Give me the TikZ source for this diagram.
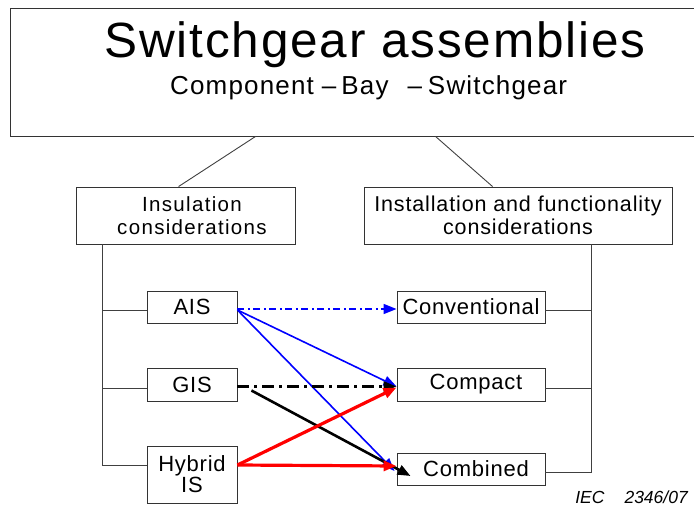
\documentclass[tikz,border=0pt]{standalone}
\usepackage{fontspec}
\setmainfont{Liberation Sans}
\newfontfamily\titlefont[LetterSpace=3.75]{Liberation Sans}
\newfontfamily\subfont[LetterSpace=4.5]{Liberation Sans}
\newfontfamily\insfont[LetterSpace=6.5]{Liberation Sans}
\newfontfamily\instfont[LetterSpace=4]{Liberation Sans}
\newfontfamily\bxfont[LetterSpace=3.5]{Liberation Sans}
\usetikzlibrary{arrows.meta,calc}
\tikzset{
  box/.style={draw=black!80, line width=0.9pt, inner sep=0pt, align=center, anchor=center},
  bxtext/.style={font={\bxfont\fontsize{22}{24}\selectfont}},
  branch/.style={draw=black!75, line width=0.9pt},
  head/.style={-{Triangle[length=13pt,width=10pt]}},
  bluearr/.style={draw=blue, line width=1.6pt, head},
  blackarr/.style={draw=black, line width=2.6pt, head},
  redarr/.style={draw=red, line width=3.2pt, head},
  dashdot/.style={dash pattern=on 7pt off 3.5pt on 2pt off 3.5pt},
  bigdashdot/.style={dash pattern=on 12pt off 5pt on 3pt off 5pt},
}
\begin{document}
\begin{tikzpicture}[x=1pt,y=-1pt]
\useasboundingbox (0,0) rectangle (694,506);
% top box
\node[box, minimum width=690pt, minimum height=128pt] (top) at (355,72) {};
\node[inner sep=0pt, anchor=base west, font={\titlefont\fontsize{49.5}{55}\selectfont}] (title) at (104,57) {Switchgear assemblies};
\node[inner sep=0pt, anchor=base west, font={\subfont\fontsize{26}{30}\selectfont}] (subtitle) at (170,94) {Component\kern8pt–\kern5pt Bay\kern19pt–\kern6pt Switchgear};
% consideration boxes
\node[box, minimum width=219pt, minimum height=57pt] (ins) at (185.5,215.5) {};
\node[inner sep=0pt, align=center, font={\insfont\fontsize{20.5}{23}\selectfont}] (instext) at (192,215.5) {Insulation\\considerations};
\node[box, minimum width=308pt, minimum height=57pt, font={\instfont\fontsize{21.5}{23}\selectfont}] (inst) at (518,215.5) {Installation and functionality\\considerations};
\draw[branch] ([xshift=246pt]top.south west) -- ([xshift=103pt]ins.north west);
\draw[branch] ([xshift=426pt]top.south west) -- ([xshift=129pt]inst.north west);
% left boxes
\node[box, bxtext, minimum width=90pt, minimum height=32pt] (ais) at (192,307) {AIS};
\node[box, bxtext, minimum width=90pt, minimum height=33pt] (gis) at (192,384.5) {GIS};
\node[box, minimum width=90pt, minimum height=57pt, font={\bxfont\fontsize{22}{21}\selectfont}] (hyb) at (192,474.5) {Hybrid\\IS};
% right boxes
\node[box, bxtext, minimum width=148pt, minimum height=32pt] (conv) at (471,307) {Conventional};
\node[box, bxtext, minimum width=148pt, minimum height=33pt] (comp) at (471,384.5) {\kern10pt Compact};
\node[box, bxtext, minimum width=148pt, minimum height=32pt] (comb) at (471,469) {\kern10pt Combined};
% left tree
\coordinate (lbot) at (102,465);
\coordinate (la) at ($(ais.west)+(0,3)$);
\coordinate (lg) at ($(gis.west)+(0,3.5)$);
\coordinate (lh) at ($(hyb.west)+(0,-9.5)$);
\draw[branch] (lbot |- ins.south) -- (lbot) -- (lh);
\draw[branch] (la) -- (la -| lbot);
\draw[branch] (lg) -- (lg -| lbot);
% right tree
\coordinate (rbot) at (591,472);
\coordinate (rc) at ($(conv.east)+(0,3)$);
\coordinate (rp) at ($(comp.east)+(0,3.5)$);
\coordinate (rb) at ($(comb.east)+(0,3)$);
\draw[branch] (rbot |- inst.south) -- (rbot) -- (rb);
\draw[branch] (rc) -- (rc -| rbot);
\draw[branch] (rp) -- (rp -| rbot);
% arrows
\draw[bluearr, dashdot] ($(ais.east)+(0,2)$) -- ($(conv.west)+(0,2)$);
\draw[bluearr] ($(ais.east)+(0,3)$) -- ($(comp.west)+(0,2)$);
\draw[bluearr] ($(ais.east)+(0,3)$) -- ($(comb.west)+(-2,2)$);
\draw[blackarr, bigdashdot] ($(gis.east)+(0,2)$) -- ($(comp.west)+(0,2)$);
\draw[blackarr] ($(gis.east)+(14,6)$) -- ($(comb.west)+(14,7)$);
\draw[redarr] (lh -| hyb.east) -- ($(comp.west)+(0,3)$);
\draw[redarr] (lh -| hyb.east) -- ($(comb.west)+(0,-3)$);
% reference
\node[inner sep=0pt, anchor=base east, font={\itshape\fontsize{17.5}{20}\selectfont}] (iec) at (688,503) {IEC\kern20pt 2346/07};
\end{tikzpicture}
\end{document}
